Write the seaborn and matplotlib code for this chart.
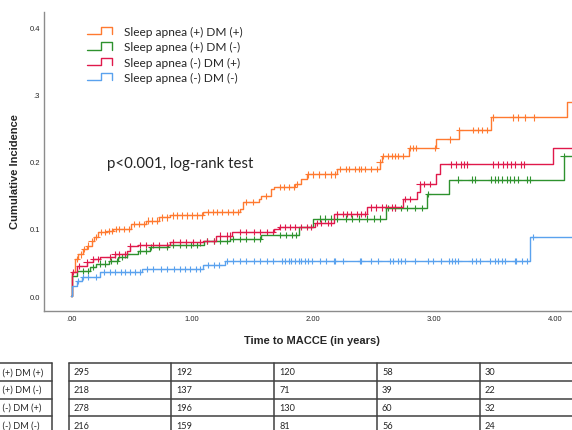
import numpy as np
import pandas as pd
import seaborn as sns
import matplotlib.pyplot as plt
from matplotlib.legend_handler import HandlerBase
from matplotlib.lines import Line2D

# groups and colours
groups = ['Sleep apnea (+) DM (+)', 'Sleep apnea (+) DM (-)',
          'Sleep apnea (-) DM (+)', 'Sleep apnea (-) DM (-)']
colors = ['#FF7A30', '#2E922E', '#E0194B', '#5AA2EE']

# event times (years) and cumulative incidence after each step
t_pp = [0.01, 0.03, 0.06, 0.10, 0.13, 0.17, 0.19, 0.22, 0.30, 0.35, 0.50, 0.62, 0.73, 0.82,
        1.09, 1.40, 1.42, 1.55, 1.57, 1.65, 1.68, 1.85, 1.90, 1.95, 2.20, 2.55, 2.57, 2.79,
        3.02, 3.21, 3.47, 4.10]
ci_pp = [0.035, 0.055, 0.062, 0.070, 0.075, 0.082, 0.088, 0.095, 0.097, 0.100, 0.107, 0.112,
         0.117, 0.120, 0.125, 0.129, 0.140, 0.144, 0.149, 0.159, 0.162, 0.167, 0.174, 0.181,
         0.189, 0.199, 0.208, 0.220, 0.233, 0.247, 0.266, 0.289]

t_pm = [0.01, 0.05, 0.16, 0.21, 0.31, 0.39, 0.46, 0.55, 0.65, 0.80, 1.10, 1.31, 1.57, 1.88,
        2.00, 2.60, 2.94, 3.12, 4.07]
ci_pm = [0.030, 0.037, 0.043, 0.048, 0.052, 0.058, 0.062, 0.067, 0.073, 0.076, 0.082, 0.085,
         0.091, 0.103, 0.115, 0.131, 0.152, 0.173, 0.208]

t_mp = [0.01, 0.05, 0.13, 0.18, 0.24, 0.36, 0.46, 0.49, 0.55, 0.82, 1.09, 1.20, 1.33, 1.68,
        1.72, 2.02, 2.17, 2.45, 2.74, 2.86, 2.88, 3.02, 3.05, 3.98]
ci_mp = [0.036, 0.045, 0.050, 0.055, 0.058, 0.062, 0.067, 0.074, 0.076, 0.080, 0.082, 0.090,
         0.095, 0.100, 0.103, 0.109, 0.122, 0.132, 0.144, 0.155, 0.167, 0.182, 0.196, 0.220]

t_mm = [0.01, 0.05, 0.09, 0.24, 0.59, 1.09, 1.27, 3.79]
ci_mm = [0.015, 0.022, 0.028, 0.036, 0.040, 0.046, 0.052, 0.088]

# censored times (years)
cens_pp = [0.05, 0.08, 0.11, 0.14, 0.17, 0.21, 0.25, 0.28, 0.31, 0.34, 0.37, 0.40, 0.44, 0.48,
           0.52, 0.56, 0.60, 0.64, 0.67, 0.71, 0.75, 0.79, 0.84, 0.88, 0.92, 0.96, 1.00, 1.04,
           1.08, 1.13, 1.17, 1.21, 1.25, 1.30, 1.34, 1.38, 1.45, 1.50, 1.61, 1.73, 1.76, 1.80,
           1.84, 1.87, 1.96, 2.00, 2.05, 2.10, 2.15, 2.18, 2.22, 2.27, 2.30, 2.35, 2.38, 2.40,
           2.43, 2.48, 2.53, 2.55, 2.58, 2.62, 2.65, 2.68, 2.70, 2.74, 2.80, 2.83, 2.85, 3.01,
           3.13, 3.21, 3.32, 3.36, 3.40, 3.44, 3.49, 3.65, 3.69, 3.75, 3.83]
cens_pm = [0.10, 0.14, 0.18, 0.24, 0.28, 0.33, 0.38, 0.42, 0.46, 0.57, 0.62, 0.66, 0.73, 0.79,
           0.84, 0.90, 0.95, 0.99, 1.04, 1.12, 1.18, 1.23, 1.29, 1.34, 1.40, 1.45, 1.51, 1.56,
           1.73, 1.78, 1.83, 1.86, 2.06, 2.10, 2.15, 2.20, 2.27, 2.32, 2.38, 2.45, 2.50, 2.55,
           2.62, 2.68, 2.73, 2.78, 2.84, 2.90, 2.95, 3.20, 3.31, 3.34, 3.47, 3.50, 3.53, 3.56,
           3.60, 3.63, 3.66, 3.69, 3.77, 3.79, 4.07]
cens_mp = [0.02, 0.07, 0.13, 0.18, 0.22, 0.32, 0.36, 0.40, 0.45, 0.49, 0.57, 0.62, 0.68, 0.73,
           0.79, 0.84, 0.90, 0.95, 1.01, 1.07, 1.12, 1.18, 1.23, 1.29, 1.31, 1.40, 1.45, 1.51,
           1.56, 1.62, 1.67, 1.73, 1.77, 1.81, 1.85, 1.90, 1.95, 1.98, 2.03, 2.07, 2.12, 2.15,
           2.20, 2.25, 2.28, 2.31, 2.36, 2.40, 2.43, 2.48, 2.52, 2.57, 2.60, 2.65, 2.68, 2.76,
           2.80, 2.88, 2.92, 2.97, 3.14, 3.18, 3.22, 3.25, 3.27, 3.49, 3.53, 3.57, 3.60, 3.64,
           3.67, 3.72, 3.74]
cens_mm = [0.06, 0.10, 0.14, 0.21, 0.27, 0.32, 0.36, 0.41, 0.45, 0.49, 0.53, 0.57, 0.63, 0.68,
           0.74, 0.79, 0.85, 0.90, 0.94, 0.98, 1.03, 1.07, 1.13, 1.18, 1.22, 1.29, 1.34, 1.40,
           1.45, 1.51, 1.56, 1.62, 1.67, 1.74, 1.77, 1.80, 1.82, 1.85, 1.88, 1.90, 1.93, 1.96,
           1.99, 2.06, 2.11, 2.17, 2.18, 2.25, 2.39, 2.40, 2.48, 2.54, 2.64, 2.66, 2.70, 2.73,
           2.76, 2.84, 2.95, 2.99, 3.06, 3.12, 3.15, 3.17, 3.20, 3.31, 3.35, 3.38, 3.46, 3.50,
           3.53, 3.56, 3.59, 3.67, 3.68, 3.73, 3.77, 3.82]

follow_up_end = 4.2

# number at risk table
risk_pp = [295, 192, 120, 58, 30]
risk_pm = [218, 137, 71, 39, 22]
risk_mp = [278, 196, 130, 60, 32]
risk_mm = [216, 159, 81, 56, 24]

events = [(t_pp, ci_pp), (t_pm, ci_pm), (t_mp, ci_mp), (t_mm, ci_mm)]
censored = [cens_pp, cens_pm, cens_mp, cens_mm]
at_risk = [risk_pp, risk_pm, risk_mp, risk_mm]

curve_rows = []
cens_rows = []
for g, (t, ci), cens in zip(groups, events, censored):
    times = np.array([0.0] + t + [follow_up_end])
    inc = np.array([0.0] + ci + [ci[-1]])
    curve_rows.append(pd.DataFrame({'time': times, 'ci': inc, 'group': g}))
    idx = np.searchsorted(times, cens, side='right') - 1
    cens_rows.append(pd.DataFrame({'time': cens, 'ci': inc[idx], 'group': g}))
curves = pd.concat(curve_rows, ignore_index=True)
cens_df = pd.concat(cens_rows, ignore_index=True)

sns.set_style('white')
plt.rcParams['font.family'] = ['Lato', 'DejaVu Sans']

W, H = 572, 431
fig = plt.figure(figsize=(W / 100, H / 100), dpi=100)

# overlay in pixel coordinates for the table and free text
over = fig.add_axes([0, 0, 1, 1])
over.set_xlim(0, W)
over.set_ylim(H, 0)
over.axis('off')

ax = fig.add_axes([44 / W, (H - 312) / H, (W - 44) / W, (312 - 13) / H])
ax.patch.set_alpha(0)

pal = dict(zip(groups, colors))
sns.lineplot(data=curves, x='time', y='ci', hue='group', hue_order=groups, palette=pal,
             drawstyle='steps-post', estimator=None, sort=True, lw=1.0, legend=False, ax=ax)
sns.scatterplot(data=cens_df, x='time', y='ci', hue='group', hue_order=groups, palette=pal,
                marker='+', s=22, linewidth=0.8, legend=False, ax=ax)

ax.set_xlim(-0.223, 4.14)
ax.set_ylim(-0.0223, 0.4226)
ax.set_xticks([0, 1, 2, 3, 4])
ax.set_xticklabels(['.00', '1.00', '2.00', '3.00', '4.00'], family='Liberation Sans', fontsize=5.5)
ax.set_yticks([0, 0.1, 0.2, 0.3, 0.4])
ax.set_yticklabels(['0.0', '0.1', '0.2', '.3', '0.4'], family='Liberation Sans', fontsize=5.5)
ax.tick_params(length=0, pad=3)
for s in ['top', 'right']:
    ax.spines[s].set_visible(False)
for s in ['left', 'bottom']:
    ax.spines[s].set_color('#8c8c8c')
    ax.spines[s].set_linewidth(1.0)
ax.set_xlabel('')
ax.set_ylabel('')

fig.text(15 / W, 1 - 172 / H, 'Cumulative Incidence', rotation=90, ha='center', va='center',
         family='Liberation Sans', fontweight='bold', fontsize=8)
fig.text(312 / W, 1 - 341 / H, 'Time to MACCE (in years)', ha='center', va='center',
         family='Liberation Sans', fontweight='bold', fontsize=8)
over.text(107, 164, 'p<0.001, log-rank test', ha='left', va='center', fontsize=10.8)


class StepHandler(HandlerBase):
    def create_artists(self, legend, orig_handle, xdescent, ydescent, width, height,
                       fontsize, trans):
        x0, y0 = -xdescent, -ydescent
        xs = [x0, x0 + 0.55 * width, x0 + 0.55 * width, x0 + width, x0 + width]
        ys = [y0, y0, y0 + height, y0 + height, y0]
        return [Line2D(xs, ys, color=orig_handle.get_color(), lw=1.0, transform=trans)]


handles = [Line2D([], [], color=c) for c in colors]
ax.legend(handles, groups, handler_map={Line2D: StepHandler()}, loc='upper left',
          bbox_to_anchor=(87 / W, 1 - 27 / H), bbox_transform=fig.transFigure,
          frameon=False, fontsize=8.6, handlelength=2.1, handleheight=0.55,
          handletextpad=1.0, labelspacing=0.35, borderpad=0, borderaxespad=0)

# number at risk table
row_y = [364.3, 381.7, 399.7, 417.3, 435.0]
col_x = [69, 171, 274, 377, 480, 583]
line_kw = dict(color='#404040', lw=1.1)
for y in row_y:
    over.plot([-2, 52], [y, y], **line_kw)
    over.plot([69, 600], [y, y], **line_kw)
over.plot([52, 52], [row_y[0], row_y[-1]], **line_kw)
for x in col_x:
    over.plot([x, x], [row_y[0], row_y[-1]], **line_kw)

renderer = fig.canvas.get_renderer()
for i, (g, risk) in enumerate(zip(groups, at_risk)):
    yc = (row_y[i] + row_y[i + 1]) / 2
    probe = over.text(0, 0, g, fontsize=6.6)
    tail = over.text(0, 0, g[len('Sleep apnea '):], fontsize=6.6)
    prefix_w = probe.get_window_extent(renderer).width - tail.get_window_extent(renderer).width
    probe.remove()
    tail.remove()
    over.text(3 - prefix_w, yc, g, ha='left', va='center', fontsize=6.6)
    for j, n in enumerate(risk):
        over.text(col_x[j] + 5, yc, str(n), ha='left', va='center', fontsize=6.6)

fig.savefig('out.png', dpi=100)
